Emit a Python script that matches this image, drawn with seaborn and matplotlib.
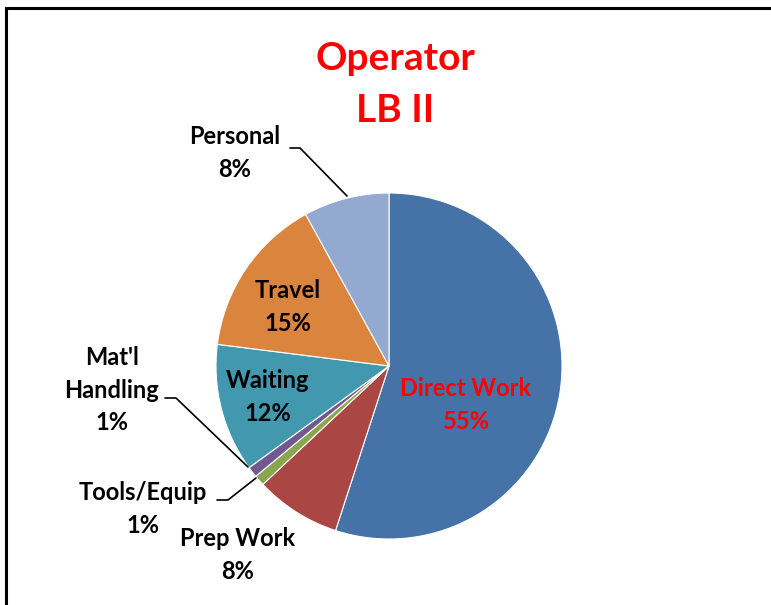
import matplotlib
matplotlib.use("Agg")
import matplotlib.pyplot as plt
import seaborn as sns

sns.set_theme(style="white")
plt.rcParams["font.family"] = ["Lato", "DejaVu Sans"]

# data
categories = ["Direct Work", "Prep Work", "Tools/Equip", "Mat'l Handling",
              "Waiting", "Travel", "Personal"]
shares = [55, 8, 1, 1, 12, 15, 8]
colors = ["#4572A7", "#AA4643", "#89A54E", "#71588F",
          "#4198AF", "#DB843D", "#93A9CF"]

W, H = 771, 605
fig = plt.figure(figsize=(W / 100, H / 100), dpi=100)
ax = fig.add_axes([0, 0, 1, 1])

ax.pie(shares, colors=colors, startangle=90, counterclock=False,
       center=(389, H - 366), radius=173,
       wedgeprops=dict(edgecolor="white", linewidth=0.8))

# pie() resets the limits, so set them afterwards
ax.set_xlim(0, W)
ax.set_ylim(0, H)
ax.set_aspect("equal")
ax.axis("off")

def px(x, y):
    return x, H - y

# title
ax.text(*px(395, 59), "Operator", color="red", fontsize=28, fontweight="bold",
        ha="center", va="center")
ax.text(*px(395, 110), "LB II", color="red", fontsize=28, fontweight="bold",
        ha="center", va="center")

# slice labels: (text, x, y, colour)
labels = [
    ("Direct Work\n55%", 466, 405, "red"),
    ("Prep Work\n8%", 238, 555, "black"),
    ("Tools/Equip\n1%", 143, 509, "black"),
    ("Mat'l\nHandling\n1%", 112, 390, "black"),
    ("Waiting\n12%", 268, 397, "black"),
    ("Travel\n15%", 288, 307, "black"),
    ("Personal\n8%", 235, 153, "black"),
]
for txt, x, y, c in labels:
    ax.text(*px(x, y), txt, color=c, fontsize=17, fontweight="bold",
            ha="center", va="center", linespacing=1.5)

# leader lines
leaders = [
    [(290, 148), (300, 148), (347, 196)],
    [(165, 398), (176, 398), (248, 467)],
    [(217, 500), (228, 500), (256, 478)],
]
for pts in leaders:
    xs = [p[0] for p in pts]
    ys = [H - p[1] for p in pts]
    ax.plot(xs, ys, color="black", linewidth=1.2)

# partial frame (left and top edges)
ax.plot([6, 6, W], [0, H - 8, H - 8], color="black", linewidth=2.2,
        solid_joinstyle="miter")

fig.savefig("out.png", dpi=100)
